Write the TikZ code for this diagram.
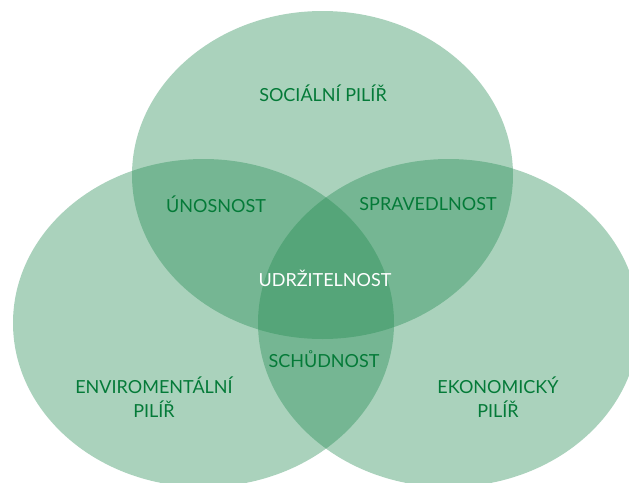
\documentclass[tikz,border=0pt]{standalone}
\usepackage{fontspec}
\setmainfont{Lato}
\usepackage{tikz}
\usetikzlibrary{shapes.geometric,positioning}
\definecolor{pillarfill}{RGB}{31,137,79}
\definecolor{pillartext}{RGB}{4,122,56}
\tikzset{
    %Define style for the pillars
    pillar/.style={
           ellipse,
           fill=pillarfill,
           fill opacity=0.38,
           minimum width=381pt,
           minimum height=328pt,
           inner sep=0pt},
    %Define style for labels
    label text/.style={
           font=\fontsize{18}{23.5}\selectfont,
           text=pillartext,
           align=center,
           inner sep=0pt},
    core text/.style={
           label text,
           text=white}
}
\begin{document}
\begin{tikzpicture}[x=1pt,y=-1pt]
\useasboundingbox (0,0) rectangle (629,482);
\clip (0,0) rectangle (629,482);
 %pillars
\node[pillar](social) at (322.5,175){};
\node[pillar](enviro) at (203.5,323){};
\node[pillar](econ) at (448.5,323){};
 %labels
\node[label text](socl) at (323,93){SOCIÁLNÍ PILÍŘ};
\node[label text](envl) at (154,397){ENVIROMENTÁLNÍ\\PILÍŘ};
\node[label text](ecol) at (498,397){EKONOMICKÝ\\PILÍŘ};
\node[label text](unos) at (216,204){ÚNOSNOST};
\node[label text](sprav) at (428,204){SPRAVEDLNOST};
\node[label text](schud) at (324,359){SCHŮDNOST};
\node[core text](udrz) at (325,278){UDRŽITELNOST};
\end{tikzpicture}
\end{document}
